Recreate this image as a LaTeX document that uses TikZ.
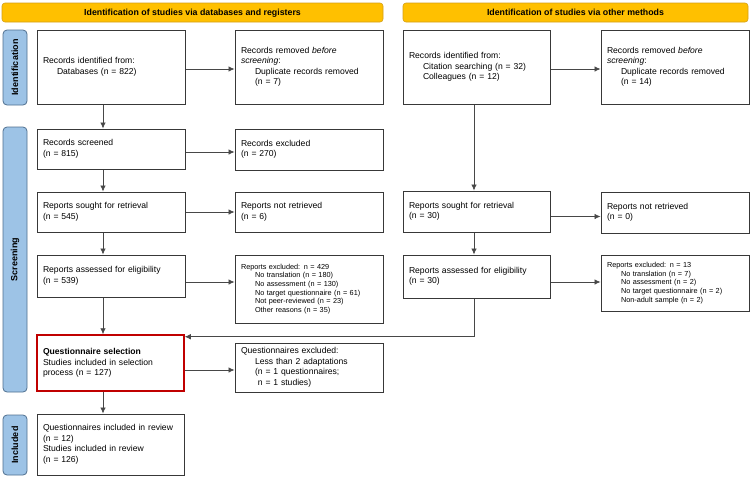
\documentclass[tikz,border=0pt]{standalone}
\usepackage{fontspec}
\setmainfont{Liberation Sans}
\usetikzlibrary{arrows.meta}
\definecolor{banfill}{HTML}{FFC000}
\definecolor{bandraw}{HTML}{D4A017}
\definecolor{sidefill}{HTML}{9DC3E6}
\definecolor{sidedraw}{HTML}{4F6F8F}
\definecolor{selred}{HTML}{C00000}
\begin{document}
\begin{tikzpicture}[x=1pt,y=-1pt,
  box/.style={draw=black!78, line width=1pt, inner xsep=6pt, inner ysep=0pt, align=left, font=\fontsize{8.6}{10.5}\selectfont},
  small/.style={font=\fontsize{7.3}{8.7}\selectfont},
  selbox/.style={box, draw=selred, line width=1.5pt},
  banner/.style={draw=bandraw, fill=banfill, rounded corners=3pt, line width=0.6pt, font=\bfseries\fontsize{8.8}{10}\selectfont, inner sep=0pt, text height=6.5pt, text depth=1pt},
  side/.style={draw=sidedraw, fill=sidefill, rounded corners=4pt, line width=0.8pt, font=\bfseries\fontsize{9}{10}\selectfont, inner sep=0pt, rotate=90},
  arr/.style={draw=black!72, line width=0.7pt, -{Latex[length=6pt,width=5.5pt]}}
]
\useasboundingbox (0,0) rectangle (750,477);
\newcommand{\ind}{\hspace*{14pt}}
% banners
\node[banner, minimum width=381pt, minimum height=19pt] (T1) at (192.5,12.5) {Identification of studies via databases and registers};
\node[banner, minimum width=345pt, minimum height=19pt] (T2) at (575.5,12.5) {Identification of studies via other methods};
% side labels
\node[side, minimum width=75pt, minimum height=24pt] (S1) at (15,67.5) {Identification};
\node[side, minimum width=265pt, minimum height=24pt] (S2) at (15,259.5) {Screening};
\node[side, minimum width=60pt, minimum height=24pt] (S3) at (15,445) {Included};
% left column
\node[box, text width=136pt, minimum height=74pt] (A1) at (111,67) {Records identified from:\\\ind Databases (n = 822)};
\node[box, text width=136pt, minimum height=74pt] (A2) at (309,67) {Records removed \textit{before}\\\textit{screening}:\\\ind Duplicate records removed\\\ind (n = 7)};
\node[box, text width=136pt, minimum height=40pt] (B1) at (111,149) {Records screened\\(n = 815)};
\node[box, text width=136pt, minimum height=41pt] (B2) at (309,149.5) {Records excluded\\(n = 270)};
\node[box, text width=136pt, minimum height=40pt] (C1) at (111,212) {Reports sought for retrieval\\(n = 545)};
\node[box, text width=136pt, minimum height=40pt] (C2) at (309,212) {Reports not retrieved\\(n = 6)};
\node[box, text width=136pt, minimum height=42pt] (D1) at (111,276) {Reports assessed for eligibility\\(n = 539)};
\node[box, small, text width=136pt, minimum height=68pt] (D2) at (309,289) {Reports excluded: n = 429\\\ind No translation (n = 180)\\\ind No assessment (n = 130)\\\ind No target questionnaire (n = 61)\\\ind Not peer-reviewed (n = 23)\\\ind Other reasons (n = 35)};
\node[selbox, text width=135pt, minimum height=56pt] (E1) at (110.5,363) {\textbf{Questionnaire selection}\\Studies included in selection\\process (n = 127)};
\node[box, text width=136pt, minimum height=49pt] (E2) at (309,367.5) {Questionnaires excluded:\\\ind Less than 2 adaptations\\\ind (n = 1 questionnaires;\\\ind\ n = 1 studies)};
\node[box, text width=135pt, minimum height=61pt] (F1) at (110.5,444.5) {Questionnaires included in review\\(n = 12)\\Studies included in review\\(n = 126)};
% right column
\node[box, text width=135pt, minimum height=74pt] (G1) at (476.5,67) {Records identified from:\\\ind Citation searching (n = 32)\\\ind Colleagues (n = 12)};
\node[box, text width=136pt, minimum height=74pt] (G2) at (675,67) {Records removed \textit{before}\\\textit{screening}:\\\ind Duplicate records removed\\\ind (n = 14)};
\node[box, text width=135pt, minimum height=41pt] (H1) at (476.5,211.5) {Reports sought for retrieval\\(n = 30)};
\node[box, text width=136pt, minimum height=41pt] (H2) at (675,212.5) {Reports not retrieved\\(n = 0)};
\node[box, text width=135pt, minimum height=43pt] (I1) at (476.5,276.5) {Reports assessed for eligibility\\(n = 30)};
\node[box, small, text width=136pt, minimum height=56pt] (I2) at (675,283) {Reports excluded: n = 13\\\ind No translation (n = 7)\\\ind No assessment (n = 2)\\\ind No target questionnaire (n = 2)\\\ind Non-adult sample (n = 2)};
% vertical connectors left
\coordinate (va) at ([xshift=-8pt]A1.south);
\coordinate (vb) at ([xshift=-8pt]B1.south);
\coordinate (vc) at ([xshift=-8pt]C1.south);
\coordinate (vd) at ([xshift=-8pt]D1.south);
\coordinate (ve) at ([xshift=-7.5pt]E1.south);
\draw[arr] (va) -- (va |- B1.north);
\draw[arr] (vb) -- (vb |- C1.north);
\draw[arr] (vc) -- (vc |- D1.north);
\draw[arr] (vd) -- (vd |- E1.north);
\draw[arr] (ve) -- (ve |- F1.north);
% vertical connectors right
\coordinate (vg) at ([xshift=-2.5pt]G1.south);
\coordinate (vh) at ([xshift=-2.5pt]H1.south);
\coordinate (vi) at ([xshift=-2.5pt]I1.south);
\coordinate (ein) at ([yshift=-2.5pt]E1.north east);
\draw[arr] (vg) -- (vg |- H1.north);
\draw[arr] (vh) -- (vh |- I1.north);
\draw[arr] (vi) |- (ein);
% horizontal connectors
\coordinate (ha) at ([yshift=-2pt]A1.east);
\coordinate (hb) at ([yshift=-3pt]B1.east);
\coordinate (hc) at (C1.east);
\coordinate (hd) at ([yshift=-6pt]D1.east);
\coordinate (he) at ([yshift=-7pt]E1.east);
\coordinate (hg) at ([yshift=-2pt]G1.east);
\coordinate (hh) at ([yshift=-5pt]H1.east);
\coordinate (hi) at ([yshift=-5.5pt]I1.east);
\draw[arr] (ha) -- (ha -| A2.west);
\draw[arr] (hb) -- (hb -| B2.west);
\draw[arr] (hc) -- (hc -| C2.west);
\draw[arr] (hd) -- (hd -| D2.west);
\draw[arr] (he) -- (he -| E2.west);
\draw[arr] (hg) -- (hg -| G2.west);
\draw[arr] (hh) -- (hh -| H2.west);
\draw[arr] (hi) -- (hi -| I2.west);
\end{tikzpicture}
\end{document}
